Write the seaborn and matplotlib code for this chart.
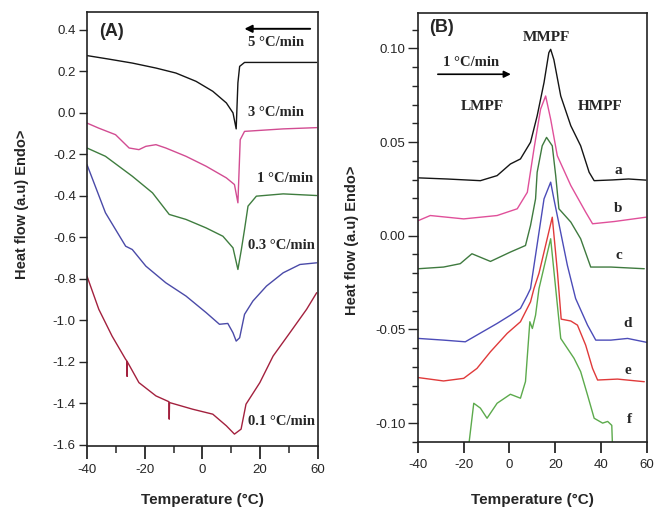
import numpy as np
import pandas as pd
import matplotlib
matplotlib.use("Agg")
import matplotlib.pyplot as plt
import seaborn as sns
from matplotlib.ticker import MultipleLocator, FixedLocator, FixedFormatter, FormatStrFormatter

sns.set_theme(style="ticks")
plt.rcParams['font.family'] = ['Liberation Sans', 'DejaVu Sans']
plt.rcParams['axes.unicode_minus'] = False

# ---------------- Panel A data (cooling at different rates) ----------------
a5_T = [-40.0, -32.4, -24.3, -16.1, -9.2, -2.2, 3.6, 8.3, 10.6, 11.7, 12.3, 12.9, 14.6, 39.6]
a5_v = [0.275, 0.258, 0.239, 0.215, 0.191, 0.151, 0.103, 0.047, -0.001, -0.078, 0.144, 0.223, 0.242, 0.242]

a3_T = [-40.0, -36.0, -30.1, -25.4, -22.0, -19.6, -16.1, -12.7, -5.7, 1.3, 8.3, 11.1, 12.3, 13.1, 14.6, 28.0, 39.6]
a3_v = [-0.050, -0.074, -0.106, -0.170, -0.178, -0.162, -0.154, -0.170, -0.210, -0.258, -0.314, -0.346, -0.434, -0.130, -0.090, -0.078, -0.072]

a1_T = [-40.0, -33.6, -24.3, -17.3, -11.5, -5.7, 1.3, 7.1, 10.6, 12.3, 13.5, 14.6, 15.8, 18.7, 28.0, 39.6]
a1_v = [-0.170, -0.210, -0.306, -0.386, -0.490, -0.514, -0.555, -0.595, -0.651, -0.755, -0.659, -0.562, -0.450, -0.402, -0.391, -0.399]

a03_T = [-40.0, -33.6, -26.6, -24.3, -19.6, -12.7, -5.7, 1.3, 5.9, 8.8, 10.6, 11.7, 12.9, 14.6, 17.5, 22.2, 28.0, 33.8, 39.6]
a03_v = [-0.250, -0.482, -0.643, -0.659, -0.739, -0.819, -0.883, -0.963, -1.019, -1.015, -1.060, -1.100, -1.084, -0.971, -0.907, -0.835, -0.771, -0.731, -0.723]

a01_T = [-40.0, -35.9, -31.3, -26.6, -26.2, -26.1, -26.0, -22.0, -16.1, -11.6, -11.5, -11.4, -3.4, 3.6, 8.3, 11.1, 13.4, 15.1, 19.9, 24.5, 30.3, 36.1, 39.6]
a01_v = [-0.787, -0.947, -1.076, -1.188, -1.195, -1.270, -1.200, -1.300, -1.364, -1.392, -1.476, -1.396, -1.428, -1.452, -1.508, -1.548, -1.524, -1.404, -1.300, -1.172, -1.060, -0.947, -0.867]

A_series = [("5 °C/min", a5_T, a5_v, "#151515"),
            ("3 °C/min", a3_T, a3_v, "#d24c92"),
            ("1 °C/min", a1_T, a1_v, "#3f7d3f"),
            ("0.3 °C/min", a03_T, a03_v, "#4a4aa8"),
            ("0.1 °C/min", a01_T, a01_v, "#a3213e")]
A_labels = ["5 °C/min", "3 °C/min", "1 °C/min", "0.3 °C/min", "0.1 °C/min"]
A_label_T = [25.4, 25.4, 28.5, 27.5, 27.5]
A_label_v = [0.337, 0.0, -0.317, -0.639, -1.486]
A_xticks = [-40, -20, 0, 20, 40]
A_xticklabels = ["-40", "-20", "0", "20", "60"]

# ---------------- Panel B data (heating at 1 °C/min) ----------------
b_a_T = [-39.8, -27.3, -12.7, -5.4, 0.4, 4.8, 9.2, 12.1, 15.1, 17.2, 18.0, 19.4, 22.4, 26.8, 31.1, 34.8, 37.0, 45.0, 52.0, 59.6]
b_a_v = [0.0309, 0.0303, 0.0294, 0.0321, 0.0383, 0.041, 0.0499, 0.064, 0.0818, 0.0977, 0.0995, 0.094, 0.0746, 0.0587, 0.048, 0.0339, 0.0294, 0.0298, 0.0303, 0.0297]

b_b_T = [-39.8, -34.6, -20.0, -5.4, 3.4, 7.8, 10.7, 13.6, 15.8, 18.0, 20.9, 26.8, 33.3, 36.3, 45.8, 59.6]
b_b_v = [0.0081, 0.0108, 0.009, 0.0108, 0.0144, 0.0232, 0.0463, 0.0676, 0.0746, 0.0622, 0.0427, 0.0268, 0.0126, 0.0064, 0.0076, 0.0099]

b_c_T = [-39.8, -28.8, -21.5, -16.4, -8.3, 0.4, 7.0, 9.2, 11.4, 12.1, 14.3, 16.2, 18.7, 20.2, 21.6, 26.8, 31.1, 35.5, 44.3, 58.9]
b_c_v = [-0.0176, -0.0167, -0.0149, -0.0096, -0.0137, -0.0087, -0.0052, 0.0055, 0.0197, 0.0339, 0.048, 0.0525, 0.048, 0.0321, 0.0144, 0.0073, -0.0016, -0.0167, -0.0167, -0.0176]

b_d_T = [-39.8, -28.8, -19.3, -14.2, -5.4, 0.4, 4.8, 7.8, 9.2, 15.1, 18.0, 19.4, 25.3, 28.9, 34.1, 37.7, 44.3, 51.6, 60.0]
b_d_v = [-0.0548, -0.0557, -0.0566, -0.053, -0.0468, -0.0424, -0.0388, -0.0318, -0.0282, 0.0197, 0.0286, 0.0197, -0.0158, -0.0335, -0.0477, -0.0557, -0.0557, -0.0548, -0.0569]

b_e_T = [-39.8, -28.8, -20.0, -14.2, -8.3, -1.0, 4.8, 9.2, 10.7, 12.9, 18.7, 21.0, 22.6, 26.8, 29.7, 33.3, 36.3, 38.5, 47.2, 58.9]
b_e_v = [-0.0757, -0.0775, -0.0761, -0.0708, -0.0619, -0.0521, -0.0459, -0.0353, -0.0282, -0.0200, 0.0099, -0.0200, -0.0445, -0.0455, -0.0477, -0.0584, -0.0708, -0.077, -0.0765, -0.0779]

b_f_T = [-17.8, -15.6, -12.7, -9.8, -5.4, 0.4, 4.8, 7.0, 8.9, 10.0, 11.4, 12.9, 18.0, 20.2, 22.4, 25.3, 28.2, 31.1, 34.1, 37.0, 40.7, 42.9, 44.7, 45.0]
b_f_v = [-0.112, -0.0894, -0.092, -0.0974, -0.0894, -0.0846, -0.0867, -0.0778, -0.0459, -0.0495, -0.0424, -0.0282, -0.0016, -0.0282, -0.0548, -0.0601, -0.0654, -0.0725, -0.085, -0.0974, -0.100, -0.0991, -0.1012, -0.112]

B_series = [("a", b_a_T, b_a_v, "#151515"),
            ("b", b_b_T, b_b_v, "#e0509a"),
            ("c", b_c_T, b_c_v, "#3f7a3f"),
            ("d", b_d_T, b_d_v, "#4c4cb8"),
            ("e", b_e_T, b_e_v, "#e03a3a"),
            ("f", b_f_T, b_f_v, "#5caa4c")]
B_labels = ["a", "b", "c", "d", "e", "f"]
B_label_T = [47.4, 47.4, 47.9, 51.6, 51.6, 52.3]
B_label_v = [0.0346, 0.0144, -0.0105, -0.0468, -0.0717, -0.0983]
B_peak_names = ["LMPF", "MMPF", "HMPF"]
B_peak_T = [-11.8, 16.2, 39.5]
B_peak_v = [0.0692, 0.1059, 0.0692]

# ---------------- Figure ----------------
fig = plt.figure(figsize=(6.54, 5.12), dpi=100)
axA = fig.add_axes([0.133, 0.129, 0.353, 0.848])
axB = fig.add_axes([0.639, 0.137, 0.350, 0.838])

for name, T, v, col in A_series:
    df = pd.DataFrame({"T": T, "v": v})
    sns.lineplot(data=df, x="T", y="v", ax=axA, color=col, lw=1.0, sort=False, estimator=None)
for name, T, v, col in B_series:
    df = pd.DataFrame({"T": T, "v": v})
    sns.lineplot(data=df, x="T", y="v", ax=axB, color=col, lw=1.0, sort=False, estimator=None)

serif = ['Liberation Serif', 'DejaVu Serif']

# Panel A styling
axA.set_xlim(-40, 40)
axA.set_ylim(-1.605, 0.486)
axA.xaxis.set_major_locator(FixedLocator(A_xticks))
axA.xaxis.set_major_formatter(FixedFormatter(A_xticklabels))
axA.xaxis.set_minor_locator(MultipleLocator(10))
axA.yaxis.set_major_locator(MultipleLocator(0.2))
axA.yaxis.set_major_formatter(FormatStrFormatter('%.1f'))
axA.tick_params(axis='x', which='major', direction='out', length=9, width=1.3, labelsize=9.5, pad=4)
axA.tick_params(axis='x', which='minor', direction='out', length=5, width=1.1)
axA.tick_params(axis='y', which='major', direction='out', length=6, width=1.0, labelsize=9.5, pad=2)
for s in axA.spines.values():
    s.set_linewidth(1.2)
    s.set_color('#222222')
axA.set_xlabel("")
axA.set_ylabel("")
for lab, T, v in zip(A_labels, A_label_T, A_label_v):
    axA.text(T, v, lab, ha='center', va='center', fontsize=10.5, fontweight='bold', family=serif)
axA.text(-31.4, 0.39, "(A)", ha='center', va='center', fontsize=13, fontweight='bold')
axA.annotate("", xy=(13.6, 0.404), xytext=(38.3, 0.404),
             arrowprops=dict(arrowstyle='-|>', color='black', lw=1.4, mutation_scale=11))

# Panel B styling
axB.set_xlim(-40, 60)
axB.set_ylim(-0.110, 0.119)
axB.xaxis.set_major_locator(MultipleLocator(20))
axB.yaxis.set_major_locator(MultipleLocator(0.05))
axB.yaxis.set_minor_locator(MultipleLocator(0.01))
axB.yaxis.set_major_formatter(FormatStrFormatter('%.2f'))
axB.tick_params(axis='x', which='major', direction='out', length=8, width=1.3, labelsize=9.5, pad=4)
axB.tick_params(axis='y', which='major', direction='out', length=7, width=1.0, labelsize=9.5, pad=2)
axB.tick_params(axis='y', which='minor', direction='out', length=4.5, width=1.0)
for s in axB.spines.values():
    s.set_linewidth(1.2)
    s.set_color('#222222')
axB.set_xlabel("")
axB.set_ylabel("")
for lab, T, v in zip(B_labels, B_label_T, B_label_v):
    axB.text(T, v, lab, ha='center', va='center', fontsize=11, fontweight='bold', family=serif)
for lab, T, v in zip(B_peak_names, B_peak_T, B_peak_v):
    axB.text(T, v, lab, ha='center', va='center', fontsize=11, fontweight='bold', family=serif)
axB.text(-16.7, 0.0926, "1 °C/min", ha='center', va='center', fontsize=10.5, fontweight='bold', family=serif)
axB.annotate("", xy=(1.8, 0.0862), xytext=(-32.5, 0.0862),
             arrowprops=dict(arrowstyle='-|>', color='black', lw=1.2, mutation_scale=10))
axB.text(-29.5, 0.1112, "(B)", ha='center', va='center', fontsize=13, fontweight='bold')

# Axis titles
fig.text(22/654, 1 - 204/512, "Heat flow (a.u) Endo>", rotation=90, ha='center', va='center',
         fontsize=10.5, fontweight='bold')
fig.text(352/654, 1 - 240/512, "Heat flow (a.u) Endo>", rotation=90, ha='center', va='center',
         fontsize=10.5, fontweight='bold')
fig.text(202/654, 1 - 500/512, "Temperature (°C)", ha='center', va='center', fontsize=11, fontweight='bold')
fig.text(532/654, 1 - 500/512, "Temperature (°C)", ha='center', va='center', fontsize=11, fontweight='bold')

fig.savefig("out.png", dpi=100)
